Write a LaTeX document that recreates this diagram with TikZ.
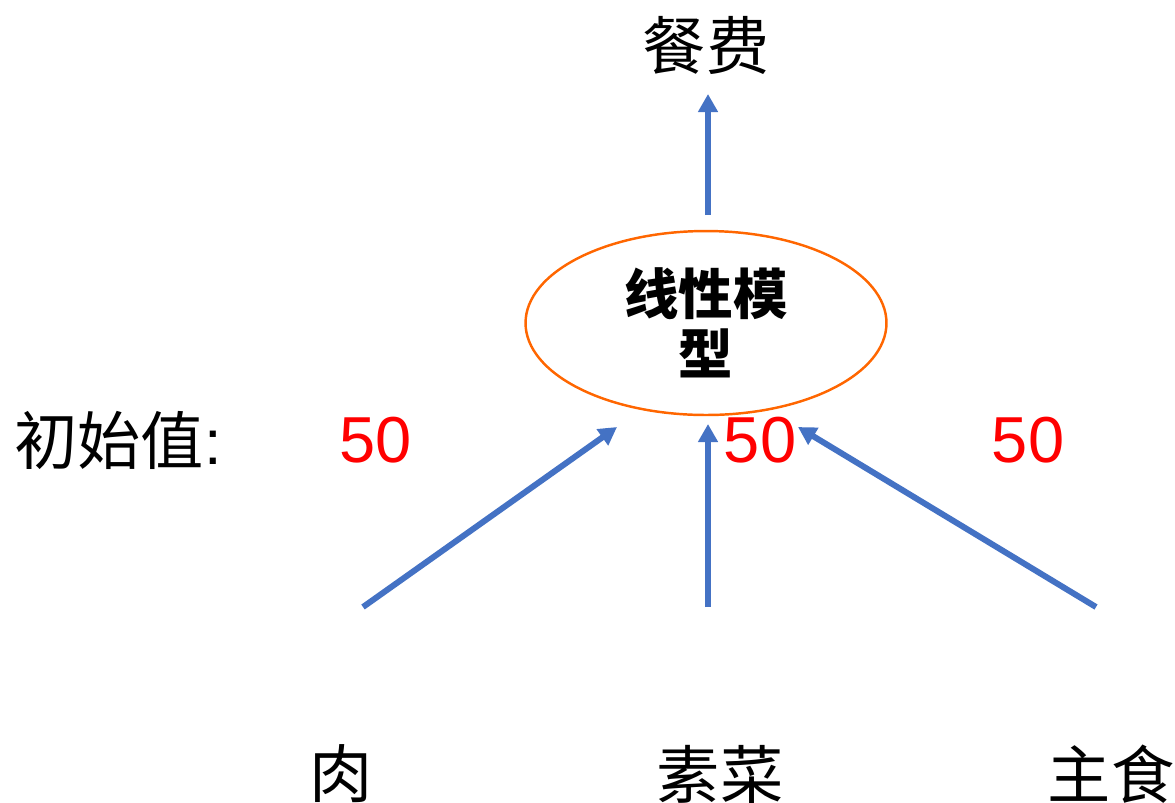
\documentclass[tikz,border=0pt]{standalone}
\usepackage{fontspec}
\setmainfont{Liberation Sans}
\newfontfamily\cjk{Noto Sans CJK SC}
\usetikzlibrary{shapes.geometric,arrows.meta}
\definecolor{arrowblue}{RGB}{68,114,196}
\definecolor{ellorange}{RGB}{255,102,0}
\begin{document}
\begin{tikzpicture}[x=0.02cm,y=-0.02cm,
  lbl/.style={font=\cjk\fontsize{36}{40}\selectfont, inner sep=0pt},
  num/.style={font=\fontsize{37}{40}\selectfont, text=red, inner sep=0pt},
  arr/.style={draw=arrowblue, line width=3.4pt, -{Triangle[width=0.38cm,length=0.36cm]}},
  model/.style={ellipse, draw=ellorange, line width=1.4pt, minimum width=7.22cm, minimum height=3.68cm, inner sep=0pt, align=center, font=\cjk\bfseries\fontsize{31}{34}\selectfont}
]
\useasboundingbox (0,0) rectangle (1175,802);
\node[lbl] (fee) at (706,45) {餐费};
\node[model] (lm) at (706,323) {线性模\\型};
\node[lbl, anchor=west] (init) at (14,440) {初始值\fontspec{Liberation Sans}:};
\node[num] (v1) at (376,440) {50};
\node[num] (v2) at (760,440) {50};
\node[num] (v3) at (1028,440) {50};
\node[lbl] (meat) at (341,774) {肉};
\node[lbl] (veg) at (720,774) {素菜};
\node[lbl] (staple) at (1111,774) {主食};
\coordinate (topS) at (708,215);
\coordinate (topE) at (708,94);
\coordinate (aS) at (363,607);
\coordinate (aE) at (617,427);
\coordinate (bS) at (708,607);
\coordinate (bE) at (708,424);
\coordinate (cS) at (1096,607);
\coordinate (cE) at (798,427);
\draw[arr] (topS) -- (topE);
\draw[arr] (aS) -- (aE);
\draw[arr] (bS) -- (bE);
\draw[arr] (cS) -- (cE);
\end{tikzpicture}
\end{document}
